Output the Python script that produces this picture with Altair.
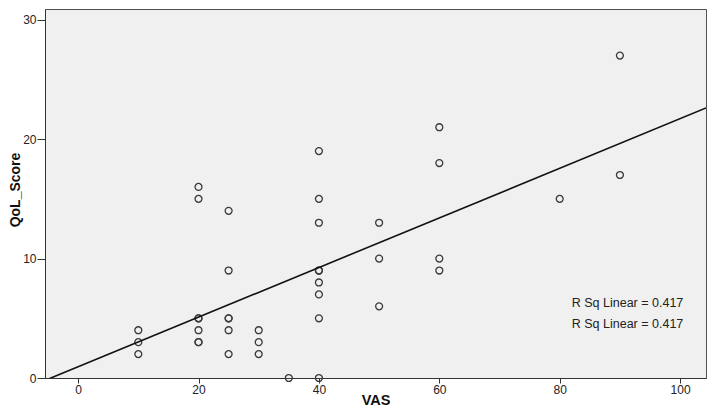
import altair as alt
import pandas as pd

# Data
vas = [10, 10, 10,
       20, 20, 20, 20, 20, 20, 20,
       25, 25, 25, 25, 25, 25,
       30, 30, 30,
       35,
       40, 40, 40, 40, 40, 40, 40, 40, 40,
       50, 50, 50,
       60, 60, 60, 60,
       80,
       90, 90]
qol = [4, 3, 2,
       16, 15, 5, 5, 4, 3, 3,
       14, 9, 5, 5, 4, 2,
       4, 3, 2,
       0,
       19, 15, 13, 9, 9, 8, 7, 5, 0,
       13, 10, 6,
       21, 18, 10, 9,
       15,
       27, 17]

x_ticks = [0, 20, 40, 60, 80, 100]
y_ticks = [0, 10, 20, 30]
x_domain = [-5.5, 104.3]
y_domain = [0, 30.9]

ann_text = ["R Sq Linear = 0.417", "R Sq Linear = 0.417"]
ann_x = [82, 82]
ann_y = [6.3, 4.5]

df = pd.DataFrame({"VAS": vas, "QoL_Score": qol})
ann = pd.DataFrame({"x": ann_x, "y": ann_y, "t": ann_text})

FONT = "Liberation Sans"
W, H = 661, 369
xs = alt.Scale(domain=x_domain, nice=False, zero=False)
ys = alt.Scale(domain=y_domain, nice=False, zero=False)

x_axis = alt.Axis(values=x_ticks, title="VAS", tickSize=5, labelPadding=1,
                  titlePadding=-2, titleFontSize=14.5)
y_axis = alt.Axis(values=y_ticks, title="QoL_Score", tickSize=8, labelPadding=1,
                  titleFontSize=14, titleX=-23, titleY=H / 2 - 4)

points = alt.Chart(df).mark_point(
    shape="circle", filled=False, size=48, color="#3a3a3a",
    strokeWidth=1.3, opacity=1
).encode(
    x=alt.X("VAS:Q", scale=xs, axis=x_axis),
    y=alt.Y("QoL_Score:Q", scale=ys, axis=y_axis),
)

fit = alt.Chart(df).transform_regression(
    "VAS", "QoL_Score", extent=x_domain
).mark_line(color="#111111", strokeWidth=1.6, clip=True).encode(
    x=alt.X("VAS:Q", scale=xs),
    y=alt.Y("QoL_Score:Q", scale=ys),
)

labels = alt.Chart(ann).mark_text(
    align="left", baseline="middle", font=FONT, fontSize=12.5, color="#222222"
).encode(
    x=alt.X("x:Q", scale=xs),
    y=alt.Y("y:Q", scale=ys),
    text="t:N",
)

chart = alt.layer(points, fit, labels).properties(
    width=W, height=H,
    autosize=alt.AutoSizeParams(type="none"),
    padding={"left": 37, "top": 1, "right": 1, "bottom": 32},
    background="white",
).configure_view(
    fill="#f0f0f0", stroke="#505050", strokeWidth=1
).configure_axis(
    grid=False, domainColor="#333333", tickColor="#333333",
    labelFont=FONT, labelFontSize=12, labelColor="#222222",
    titleFont=FONT, titleFontWeight="bold", titleColor="#111111",
)

chart.save("out.html", embed_options={"renderer": "svg", "actions": False})
